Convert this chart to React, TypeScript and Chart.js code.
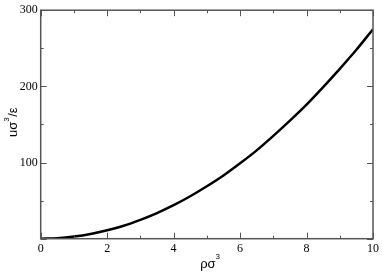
import React, { useEffect, useRef } from "react";
import { Chart, registerables } from "chart.js";

Chart.register(...registerables);

const rhoValues = [0, 0.5, 1, 1.5, 2, 2.5, 3, 3.5, 4, 4.5, 5, 5.5, 6, 6.5, 7, 7.5, 8, 8.5, 9, 9.5, 10];
const energyValues = [0, 0.7, 2.8, 6.2, 11, 17, 24.8, 33.7, 44, 55.7, 68.8, 83, 99, 116, 135, 155, 176, 199, 223, 248, 275];
const xTickValues = [0, 2, 4, 6, 8, 10];
const yTickValues = [100, 200, 300];
// title pieces: [text, superscript?]
const xTitleParts: [string, boolean][] = [["ρσ", false], ["3", true]];
const yTitleParts: [string, boolean][] = [["uσ", false], ["3", true], ["/ε", false]];

const FONT = "'Liberation Serif', 'DejaVu Serif', serif";
const TITLE_FONT = "'Liberation Sans', Arial, sans-serif";
const FRAME = "#555555";

function drawParts(ctx: CanvasRenderingContext2D, parts: [string, boolean][], raise: number) {
  let x = 0;
  for (const [t, sup] of parts) {
    ctx.font = sup ? `8px ${TITLE_FONT}` : `13px ${TITLE_FONT}`;
    ctx.fillText(t, x, sup ? -raise : 0);
    x += ctx.measureText(t).width + (sup ? 0.5 : 0);
  }
}

const framePlugin = {
  id: "frameTicks",
  afterDraw(chart: any) {
    const { ctx, chartArea: a, scales } = chart;
    const xs = scales.x;
    const ys = scales.y;
    ctx.save();
    ctx.strokeStyle = FRAME;
    ctx.lineWidth = 1.5;
    ctx.strokeRect(a.left, a.top, a.right - a.left, a.bottom - a.top);
    ctx.lineWidth = 1;
    const major = 6;
    const minor = 3;
    for (let v = 0; v <= 10; v += 1) {
      const px = Math.round(xs.getPixelForValue(v)) + 0.5;
      const len = v % 2 === 0 ? major : minor;
      ctx.beginPath();
      ctx.moveTo(px, a.bottom);
      ctx.lineTo(px, a.bottom - len);
      ctx.moveTo(px, a.top);
      ctx.lineTo(px, a.top + len);
      ctx.stroke();
    }
    for (let v = 0; v <= 300; v += 50) {
      const py = Math.round(ys.getPixelForValue(v)) + 0.5;
      const len = v % 100 === 0 ? major : minor;
      ctx.beginPath();
      ctx.moveTo(a.left, py);
      ctx.lineTo(a.left + len, py);
      ctx.moveTo(a.right, py);
      ctx.lineTo(a.right - len, py);
      ctx.stroke();
    }
    // axis titles
    ctx.fillStyle = "#000";
    ctx.textBaseline = "alphabetic";
    ctx.textAlign = "left";
    ctx.save();
    ctx.translate(xs.getPixelForValue(4.8), a.bottom + 29.5);
    drawParts(ctx, xTitleParts, 9);
    ctx.restore();
    ctx.save();
    ctx.translate(a.left - 23.5, (a.top + a.bottom) / 2 + 12.5);
    ctx.rotate(-Math.PI / 2);
    drawParts(ctx, yTitleParts, 8);
    ctx.restore();
    ctx.restore();
  },
};

export default function App() {
  const ref = useRef<HTMLCanvasElement | null>(null);
  useEffect(() => {
    document.body.style.margin = "0";
    const chart = new Chart(ref.current as HTMLCanvasElement, {
      type: "line",
      data: {
        datasets: [
          {
            data: rhoValues.map((x, i) => ({ x, y: energyValues[i] })),
            borderColor: "#000000",
            borderWidth: 2.5,
            pointRadius: 0,
            tension: 0.4,
            cubicInterpolationMode: "monotone",
            fill: false,
          },
        ],
      },
      options: {
        animation: false,
        responsive: false,
        maintainAspectRatio: false,
        layout: { padding: { top: 5, right: 8, left: 0, bottom: 0 } },
        plugins: { legend: { display: false }, tooltip: { enabled: false } },
        scales: {
          x: {
            type: "linear",
            min: 0,
            max: 10,
            grid: { display: false, drawTicks: false },
            border: { display: false },
            afterBuildTicks: (s: any) => {
              s.ticks = xTickValues.map((v) => ({ value: v }));
            },
            afterFit: (s: any) => {
              s.height = 34.3;
            },
            ticks: {
              padding: 3,
              color: "#000",
              font: { family: FONT, size: 12 },
              maxRotation: 0,
            },
          },
          y: {
            type: "linear",
            min: 0,
            max: 300,
            grid: { display: false, drawTicks: false },
            border: { display: false },
            afterBuildTicks: (s: any) => {
              s.ticks = yTickValues.map((v) => ({ value: v }));
            },
            afterFit: (s: any) => {
              s.width = 40.7;
            },
            ticks: {
              padding: 3,
              color: "#000",
              font: { family: FONT, size: 12 },
            },
          },
        },
      },
      plugins: [framePlugin],
    } as any);
    return () => chart.destroy();
  }, []);
  return (
    <div style={{ position: "relative", width: 382, height: 273 }}>
      <canvas ref={ref} width={382} height={273} style={{ display: "block" }} />
    </div>
  );
}
